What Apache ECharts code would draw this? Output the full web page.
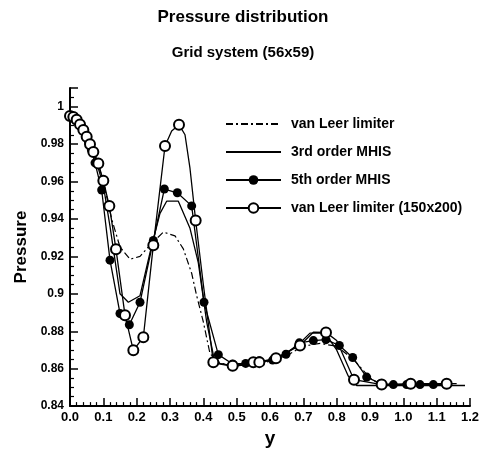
<!DOCTYPE html>
<html>
<head>
<meta charset="utf-8">
<script src="https://cdn.jsdelivr.net/npm/echarts@6/dist/echarts.min.js"></script>
<style>
	html, body { margin: 0; padding: 0; background: #fff; }
	#main { width: 495px; height: 453px; }
</style>
</head>
<body>
<div id="main"></div>
<script>
// series names (legend)
var seriesNames = ['van Leer limiter', '3rd order MHIS', '5th order MHIS', 'van Leer limiter (150x200)'];

// van Leer limiter, 56x59 (dash-dot)
var vlX = [0, 0.03, 0.06, 0.08, 0.1, 0.125, 0.15, 0.18, 0.21, 0.24, 0.28, 0.315, 0.34, 0.365, 0.38, 0.4, 0.42, 0.45, 0.5, 0.55, 0.6, 0.65, 0.7, 0.75, 0.8, 0.85, 0.9, 0.93, 1.13];
var vlY = [0.995, 0.991, 0.981, 0.972, 0.96, 0.94, 0.925, 0.9185, 0.92, 0.926, 0.933, 0.931, 0.924, 0.911, 0.899, 0.885, 0.868, 0.863, 0.8615, 0.862, 0.864, 0.867, 0.872, 0.8735, 0.872, 0.865, 0.855, 0.8515, 0.8515];

// 3rd order MHIS (solid)
var m3X = [0, 0.03, 0.06, 0.08, 0.1, 0.12, 0.135, 0.15, 0.175, 0.21, 0.24, 0.27, 0.29, 0.325, 0.36, 0.385, 0.41, 0.435, 0.48, 0.55, 0.62, 0.68, 0.72, 0.765, 0.8, 0.835, 0.86, 1.185];
var m3Y = [0.995, 0.991, 0.98, 0.97, 0.958, 0.936, 0.918, 0.9, 0.8955, 0.899, 0.922, 0.943, 0.9495, 0.9495, 0.935, 0.9165, 0.885, 0.863, 0.8615, 0.862, 0.8655, 0.872, 0.879, 0.879, 0.87, 0.856, 0.851, 0.851];

// 5th order MHIS (filled circles)
var m5X = [0, 0.008, 0.016, 0.024, 0.032, 0.04, 0.048, 0.056, 0.064, 0.075, 0.095, 0.12, 0.15, 0.178, 0.21, 0.25, 0.283, 0.322, 0.365, 0.402, 0.445, 0.488, 0.527, 0.568, 0.608, 0.648, 0.688, 0.73, 0.768, 0.808, 0.848, 0.89, 0.932, 0.97, 1.01, 1.05, 1.09, 1.128];
var m5Y = [0.995, 0.9945, 0.9935, 0.992, 0.99, 0.9875, 0.985, 0.981, 0.977, 0.97, 0.9555, 0.918, 0.8895, 0.8835, 0.8955, 0.9285, 0.956, 0.954, 0.947, 0.8955, 0.8675, 0.8625, 0.8628, 0.8642, 0.8646, 0.8677, 0.8738, 0.875, 0.8755, 0.8724, 0.866, 0.8555, 0.852, 0.8515, 0.8515, 0.8515, 0.8515, 0.8515];

// van Leer limiter, 150x200 (open circles) - marker points
var fineX = [0, 0.01, 0.02, 0.03, 0.04, 0.05, 0.06, 0.07, 0.085, 0.1, 0.118, 0.138, 0.165, 0.19, 0.22, 0.25, 0.285, 0.327, 0.377, 0.43, 0.488, 0.55, 0.568, 0.618, 0.69, 0.768, 0.852, 0.935, 1.022, 1.13];
var fineY = [0.995, 0.9945, 0.993, 0.9905, 0.9875, 0.984, 0.98, 0.9758, 0.9697, 0.9604, 0.947, 0.9238, 0.8886, 0.8698, 0.8768, 0.926, 0.979, 0.9904, 0.9392, 0.8634, 0.8616, 0.8634, 0.8635, 0.8656, 0.8724, 0.8794, 0.8541, 0.8515, 0.852, 0.852];
// fine grid curve points between the markers
var fineMidX = [0.305, 0.345, 0.36, 0.4, 0.73, 0.8, 1.16];
var fineMidY = [0.987, 0.985, 0.967, 0.905, 0.8795, 0.875, 0.852];

function pairs(xs, ys) {
	return xs.map(function (x, i) { return [x, ys[i]]; });
}

var fineData = pairs(fineX, fineY).concat(pairs(fineMidX, fineMidY).map(function (p) {
	return { value: p, symbol: 'none' };
}));
fineData.sort(function (a, b) {
	var ax = Array.isArray(a) ? a[0] : a.value[0];
	var bx = Array.isArray(b) ? b[0] : b.value[0];
	return ax - bx;
});

var font = 'Liberation Sans, Arial, sans-serif';
var noMarker = { color: 'rgba(0,0,0,0)', borderColor: 'rgba(0,0,0,0)', borderWidth: 0 };
var chart = echarts.init(document.getElementById('main'));

chart.setOption({
	backgroundColor: '#fff',
	animation: false,
	title: [{
		text: 'Pressure distribution',
		left: 238, top: 4, textAlign: 'center',
		textStyle: { fontFamily: font, fontWeight: 'bold', fontSize: 17, color: '#000' }
	}, {
		text: 'Grid system (56x59)',
		left: 238, top: 40, textAlign: 'center',
		textStyle: { fontFamily: font, fontWeight: 'bold', fontSize: 15, color: '#000' }
	}],
	legend: {
		orient: 'vertical',
		left: 220, top: 112,
		itemWidth: 55, itemHeight: 12, itemGap: 14,
		// lines without markers get an invisible legend symbol
		data: [
			{ name: seriesNames[0], itemStyle: noMarker },
			{ name: seriesNames[1], itemStyle: noMarker },
			seriesNames[2],
			seriesNames[3]
		],
		textStyle: { fontFamily: font, fontWeight: 'bold', fontSize: 14, color: '#000', padding: [0, 0, 0, 5] }
	},
	grid: { left: 70, right: 25, top: 88, bottom: 40 },
	xAxis: {
		type: 'value',
		min: 0, max: 1.2, interval: 0.1,
		name: 'y', nameLocation: 'middle', nameGap: 20,
		nameTextStyle: { fontFamily: font, fontWeight: 'bold', fontSize: 19, color: '#000' },
		axisLine: { onZero: false, lineStyle: { color: '#000', width: 2 } },
		axisTick: { inside: true, length: 8, lineStyle: { color: '#000', width: 1.5 } },
		minorTick: { show: true, splitNumber: 5, length: 4, lineStyle: { color: '#000', width: 1.2 } },
		axisLabel: {
			margin: 5, color: '#000', fontFamily: font, fontWeight: 'bold', fontSize: 13,
			formatter: function (v) { return v.toFixed(1); }
		},
		splitLine: { show: false }
	},
	yAxis: {
		type: 'value',
		min: 0.84, max: 1.01, interval: 0.02,
		name: 'Pressure', nameLocation: 'middle', nameGap: 40,
		nameTextStyle: { fontFamily: font, fontWeight: 'bold', fontSize: 17, color: '#000' },
		axisLine: { onZero: false, lineStyle: { color: '#000', width: 2 } },
		axisTick: { inside: true, length: 8, lineStyle: { color: '#000', width: 1.5 } },
		minorTick: { show: true, splitNumber: 4, length: 4, lineStyle: { color: '#000', width: 1.2 } },
		axisLabel: { margin: 6, color: '#000', fontFamily: font, fontWeight: 'bold', fontSize: 12, showMaxLabel: false },
		splitLine: { show: false }
	},
	series: [{
		name: seriesNames[0],
		type: 'line',
		symbol: 'none',
		data: pairs(vlX, vlY),
		lineStyle: { color: '#000', width: 1.2, type: [7, 3, 2, 3] },
		itemStyle: { color: '#000' }
	}, {
		name: seriesNames[1],
		type: 'line',
		symbol: 'none',
		data: pairs(m3X, m3Y),
		lineStyle: { color: '#000', width: 1.3 },
		itemStyle: { color: '#000' }
	}, {
		name: seriesNames[2],
		type: 'line',
		symbol: 'circle', symbolSize: 9,
		data: pairs(m5X, m5Y),
		lineStyle: { color: '#000', width: 1.3 },
		itemStyle: { color: '#000' }
	}, {
		name: seriesNames[3],
		type: 'line',
		symbol: 'emptyCircle', symbolSize: 10,
		data: fineData,
		lineStyle: { color: '#000', width: 1.3 },
		itemStyle: { color: '#000', borderColor: '#000', borderWidth: 1.2 }
	}]
});
</script>
</body>
</html>
